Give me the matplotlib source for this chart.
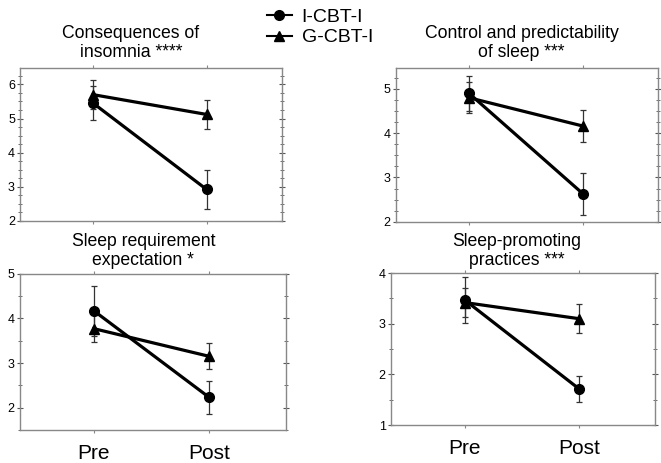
import matplotlib
matplotlib.use("Agg")
import matplotlib.pyplot as plt
from matplotlib.ticker import MultipleLocator
from matplotlib.lines import Line2D

plt.rcParams['font.family'] = ['Liberation Sans', 'DejaVu Sans']

times = ["Pre", "Post"]
groups = ["I-CBT-I", "G-CBT-I"]

titles = [
    "Consequences of\ninsomnia ****",
    "Control and predictability\nof sleep ***",
    "Sleep requirement\nexpectation *",
    "Sleep-promoting\npractices ***",
]

# means and error half-widths, [I-CBT-I, G-CBT-I] per panel
i_mean = [[5.45, 2.92], [4.90, 2.63], [4.17, 2.23], [3.47, 1.71]]
i_err = [[0.50, 0.57], [0.40, 0.48], [0.56, 0.37], [0.45, 0.25]]
g_mean = [[5.70, 5.12], [4.80, 4.16], [3.77, 3.15], [3.42, 3.10]]
g_err = [[0.42, 0.42], [0.35, 0.37], [0.30, 0.29], [0.28, 0.29]]

ylims = [(2, 6.48), (2, 5.48), (1.5, 5.0), (1, 4.0)]
minors = [0.25, 0.25, 0.5, 0.5]

boxes = [
    [0.031, 0.523, 0.395, 0.330],
    [0.599, 0.521, 0.397, 0.333],
    [0.030, 0.071, 0.402, 0.338],
    [0.592, 0.082, 0.399, 0.328],
]
title_pos = [(0.198, 0.868), (0.789, 0.868), (0.217, 0.418), (0.782, 0.418)]

fig = plt.figure(figsize=(6.61, 4.63), dpi=100)

x = [0, 1]
for k in range(4):
    ax = fig.add_axes(boxes[k])
    ax.errorbar(x, i_mean[k], yerr=i_err[k], color='black', lw=2.3,
                marker='o', ms=7, ecolor='#333333', elinewidth=0.9,
                capsize=2, capthick=0.9, zorder=3)
    ax.errorbar(x, g_mean[k], yerr=g_err[k], color='black', lw=2.3,
                marker='^', ms=7, ecolor='#333333', elinewidth=0.9,
                capsize=2, capthick=0.9, zorder=3)
    ax.set_xlim(-0.64, 1.66)
    ax.set_ylim(*ylims[k])
    ax.yaxis.set_major_locator(MultipleLocator(1))
    ax.yaxis.set_minor_locator(MultipleLocator(minors[k]))
    ax.set_xticks(x)
    if k >= 2:
        ax.set_xticklabels(times, fontsize=15)
    else:
        ax.set_xticklabels([])
    ax.tick_params(axis='x', length=2, color='#888888', top=True, pad=8)
    ax.tick_params(axis='y', which='both', direction='inout', right=True,
                   length=4, color='#555555', labelsize=9, pad=2)
    ax.tick_params(axis='y', which='minor', length=3)
    for s in ax.spines.values():
        s.set_color('#888888')
        s.set_linewidth(1.0)
    fig.text(title_pos[k][0], title_pos[k][1], titles[k], ha='center',
             va='bottom', fontsize=12.7, linespacing=1.2)

handles = [
    Line2D([], [], color='black', lw=1.5, marker='o', ms=7),
    Line2D([], [], color='black', lw=1.5, marker='^', ms=7),
]
fig.legend(handles, groups, loc='upper left', bbox_to_anchor=(0.377, 1.02),
           frameon=False, fontsize=14, handlelength=1.3, handletextpad=0.5,
           labelspacing=0.15)

fig.savefig("out.png", dpi=100)
